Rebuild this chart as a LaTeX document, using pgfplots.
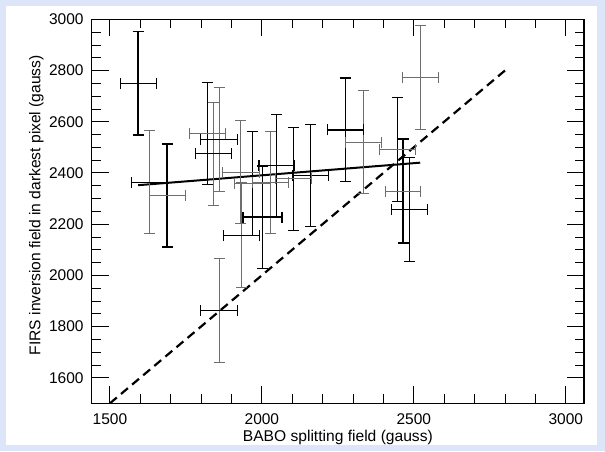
\documentclass[border=0pt]{standalone}
\usepackage{pgfplots}
\pgfplotsset{compat=1.18}
\usepackage{fontspec}
\setmainfont{Liberation Sans}
\definecolor{bgblue}{RGB}{220,230,248}
\definecolor{bargray}{RGB}{110,110,110}
\pgfplotsset{
  ebthick/.style={only marks, mark=*, mark size=0pt, black,
    error bars/error bar style={line width=1.8pt, black},
    error bars/error mark options={rotate=90, line width=1.6pt, black, mark size=5.5pt}},
  ebdark/.style={only marks, mark=*, mark size=0pt, black,
    error bars/error bar style={line width=1.0pt, black},
    error bars/error mark options={rotate=90, line width=1.0pt, black, mark size=5.5pt}},
  ebgray/.style={only marks, mark=*, mark size=0pt, bargray,
    error bars/error bar style={line width=1.0pt, bargray},
    error bars/error mark options={rotate=90, line width=1.0pt, bargray, mark size=5.5pt}},
}
\begin{document}
\begin{tikzpicture}[x=1pt,y=1pt]
\fill[bgblue] (0,0) rectangle (605,451);
\fill[white] (5.7,6) rectangle (597,445.3);
\useasboundingbox (0,0) rectangle (605,451);
\begin{axis}[
  at={(91.7pt,47.7pt)}, anchor=south west,
  scale only axis, width=492.3pt, height=384pt,
  xmin=1440, xmax=3060, ymin=1500, ymax=3000,
  xtick={1500,2000,2500,3000},
  ytick={1600,1800,2000,2200,2400,2600,2800,3000},
  minor x tick num=4, minor y tick num=3,
  tick align=inside,
  xtick pos=both, ytick pos=both,
  xticklabel pos=lower, yticklabel pos=left,
  major tick length=17pt, minor tick length=9pt,
  major tick style={black, line width=1.1pt},
  minor tick style={black, line width=0.8pt},
  axis line style={line width=1.2pt},
  /pgf/number format/assume math mode=true,
  /pgf/number format/1000 sep={},
  ticklabel style={font=\fontsize{15.5}{18}\selectfont},
  xticklabel style={anchor=north, inner sep=0pt, yshift=-10pt},
  yticklabel style={anchor=east, inner sep=0pt, xshift=-8pt},
  xlabel={BABO splitting field (gauss)},
  ylabel={FIRS inversion field in darkest pixel (gauss)},
  label style={font=\fontsize{15.6}{19}\selectfont, inner sep=0pt},
  xlabel style={at={(axis description cs:0.5,-0.1)}, anchor=base},
  ylabel style={at={(axis description cs:-0.104,0.516)}, anchor=base},
]
% y = x reference line
\addplot[black, line width=2.2pt, dash pattern=on 9pt off 5.5pt] coordinates {(1500,1500) (2800,2800)};
% linear fit
\addplot[black, line width=2pt] coordinates {(1593,2352) (2521,2440)};

% ---- vertical (y) error bars ----
\addplot[ebthick, error bars/.cd, y dir=both, y explicit]
coordinates {
(1593,2751) +- (0,202)
(1689,2312) +- (0,202)
(2002,2227) +- (0,201)
(2275,2568) +- (0,202)
(2465,2329) +- (0,203)
};
\addplot[ebdark, error bars/.cd, y dir=both, y explicit]
coordinates {
(1821,2554) +- (0,201)
(1968,2359) +- (0,202)
(2049,2429) +- (0,199)
(2105,2377) +- (0,201)
(2161,2389) +- (0,200)
(2447,2492) +- (0,203)
(2485,2257) +- (0,202)
};
\addplot[ebgray, error bars/.cd, y dir=both, y explicit]
coordinates {
(1631,2364) +- (0,201)
(1841,2474) +- (0,201)
(1859,2530) +- (0,202)
(1931,2403) +- (0,202)
(1934,2157) +- (0,205)
(2029,2362) +- (0,200)
(2333,2519) +- (0,201)
(2522,2772) +- (0,202)
(1859,1863) +- (0,202)
};

% ---- horizontal (x) error bars ----
\addplot[ebthick, error bars/.cd, x dir=both, x explicit]
coordinates {
(2002,2227) +- (64,0)
(2049,2429) +- (59,0)
(2275,2568) +- (59,0)
};
\addplot[ebdark, error bars/.cd, x dir=both, x explicit]
coordinates {
(1593,2751) +- (59,0)
(1631,2364) +- (59,0)
(1841,2474) +- (60,0)
(1859,2530) +- (60,0)
(1934,2157) +- (59,0)
(2161,2389) +- (59,0)
(2485,2257) +- (60,0)
(1859,1863) +- (60,0)
};
\addplot[ebgray, error bars/.cd, x dir=both, x explicit]
coordinates {
(1689,2312) +- (59,0)
(1821,2554) +- (60,0)
(1931,2403) +- (60,0)
(1968,2359) +- (59,0)
(2029,2362) +- (59,0)
(2105,2377) +- (59,0)
(2333,2519) +- (59,0)
(2447,2492) +- (59,0)
(2522,2772) +- (60,0)
(2465,2329) +- (58,0)
};
\end{axis}
\end{tikzpicture}
\end{document}
